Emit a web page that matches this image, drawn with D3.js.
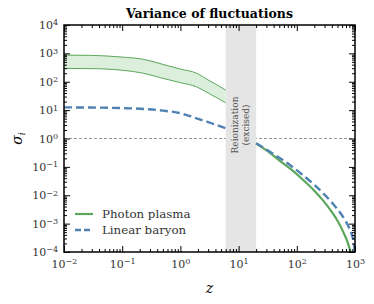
<!doctype html>
<html>
<head>
<style>
  body { margin: 0; background: #fff; }
</style>
<script src="https://d3js.org/d3.v7.min.js"></script>
</head>
<body>
<svg width="374" height="304"></svg>
<script>
// early times: photon plasma band (upper / lower edge) and linear baryon
var zEarly = [0.01, 0.03, 0.1, 0.23, 0.5, 1, 1.9, 3, 4, 6];
var plasmaUpper = [870, 850, 740, 620, 410, 280, 200, 115, 83, 51];
var plasmaLower = [295, 290, 255, 200, 132, 93, 66, 40, 29, 18];
var baryonEarly = [12.5, 12.3, 11.8, 11, 9.6, 7.8, 5.1, 3.8, 3.1, 2.3];

// late times (after reionization)
var zLatePlasma = [20, 32, 50, 79, 126, 200, 282, 398, 501, 631, 741, 851];
var plasmaLate = [0.66, 0.35, 0.17, 0.083, 0.036, 0.0145, 0.0066, 0.0026, 0.00126, 0.0005, 0.00023, 0.00009];
var zLateBaryon = [20, 32, 50, 79, 126, 200, 282, 398, 501, 631, 794, 891, 955, 1000];
var baryonLate = [0.68, 0.38, 0.21, 0.11, 0.052, 0.0234, 0.012, 0.0056, 0.0032, 0.00166, 0.00071, 0.00038, 0.0002, 0.00009];

var reionization = [6, 20];
var xTicks = [1e-2, 1e-1, 1e0, 1e1, 1e2, 1e3];
var yTicks = [1e-4, 1e-3, 1e-2, 1e-1, 1e0, 1e1, 1e2, 1e3, 1e4];
var xExp = ["\u22122", "\u22121", "0", "1", "2", "3"];
var yExp = ["\u22124", "\u22123", "\u22122", "\u22121", "0", "1", "2", "3", "4"];

var green = "#5ba65b", blue = "#4f82b3";
var serif = "DejaVu Serif";

var svg = d3.select("svg").attr("font-family", serif),
    mLeft = 64, mRight = 355, mTop = 25, mBottom = 252;

var x = d3.scaleLog().domain([1e-2, 1e3]).range([mLeft, mRight]),
    y = d3.scaleLog().domain([1e-4, 1e4]).range([mBottom, mTop]);

function minors(lo, hi) {
    var out = [];
    for (var e = lo; e < hi; e++)
        for (var m = 2; m <= 9; m++) out.push(m * Math.pow(10, e));
    return out;
}
var xMinor = minors(-2, 3), yMinor = minors(-4, 4);

svg.append("clipPath").attr("id", "plot")
   .append("rect").attr("x", mLeft).attr("y", mTop)
   .attr("width", mRight - mLeft).attr("height", mBottom - mTop);

var g = svg.append("g").attr("clip-path", "url(#plot)");

// unity reference line
g.append("line")
 .attr("x1", mLeft).attr("x2", mRight)
 .attr("y1", y(1)).attr("y2", y(1))
 .attr("stroke", "#999").attr("stroke-width", 1)
 .attr("stroke-dasharray", "3,2");

// reionization band
g.append("rect")
 .attr("x", x(reionization[0])).attr("y", mTop)
 .attr("width", x(reionization[1]) - x(reionization[0]))
 .attr("height", mBottom - mTop)
 .attr("fill", "#e5e5e5");

var band = d3.area()
    .x(function(d, i) { return x(zEarly[i]); })
    .y0(function(d, i) { return y(plasmaLower[i]); })
    .y1(function(d, i) { return y(plasmaUpper[i]); })
    .curve(d3.curveMonotoneX);

g.append("path").datum(zEarly).attr("d", band)
 .attr("fill", "#dcefdc");

var line = d3.line()
    .x(function(d) { return x(d[0]); })
    .y(function(d) { return y(d[1]); })
    .curve(d3.curveMonotoneX);

[plasmaUpper, plasmaLower].forEach(function(s) {
    g.append("path").datum(d3.zip(zEarly, s)).attr("d", line)
     .attr("fill", "none").attr("stroke", green).attr("stroke-width", 1);
});

g.append("path").datum(d3.zip(zLatePlasma, plasmaLate)).attr("d", line)
 .attr("fill", "none").attr("stroke", green).attr("stroke-width", 2.2);

[[zEarly, baryonEarly], [zLateBaryon, baryonLate]].forEach(function(s) {
    g.append("path").datum(d3.zip(s[0], s[1])).attr("d", line)
     .attr("fill", "none").attr("stroke", blue).attr("stroke-width", 2.4)
     .attr("stroke-dasharray", "8,4");
});

// band label
var bx = (x(reionization[0]) + x(reionization[1])) / 2;
var bl = svg.append("text")
 .attr("transform", "translate(" + bx + "," + 125 + ") rotate(-90)")
 .attr("text-anchor", "middle").attr("font-size", 9).attr("fill", "#555");
bl.append("tspan").attr("x", 0).attr("dy", "-0.3em").text("Reionization");
bl.append("tspan").attr("x", 0).attr("dy", "1.15em").text("(excised)");

// axes
function expLabel(exps) {
    return function(sel) {
        sel.selectAll(".tick text").each(function(d, i) {
            var t = d3.select(this).text("");
            t.append("tspan").text("10");
            t.append("tspan").attr("dy", "-0.45em").attr("font-size", "8px").text(exps[i]);
        });
    };
}

function styleAxis(sel) {
    sel.attr("font-family", serif);
    sel.select(".domain").remove();
    sel.selectAll(".tick line").attr("stroke", "#000").attr("stroke-width", 1);
    sel.selectAll(".tick text").attr("font-size", 11).attr("fill", "#333");
}

svg.append("g").attr("transform", "translate(0," + mBottom + ")")
   .call(d3.axisBottom(x).tickValues(xTicks).tickSize(-6).tickPadding(8))
   .call(styleAxis).call(expLabel(xExp));
svg.append("g").attr("transform", "translate(0," + mBottom + ")")
   .call(d3.axisBottom(x).tickValues(xMinor).tickSize(-3).tickFormat(""))
   .call(styleAxis);
svg.append("g").attr("transform", "translate(0," + mTop + ")")
   .call(d3.axisTop(x).tickValues(xTicks).tickSize(-6).tickFormat(""))
   .call(styleAxis);
svg.append("g").attr("transform", "translate(0," + mTop + ")")
   .call(d3.axisTop(x).tickValues(xMinor).tickSize(-3).tickFormat(""))
   .call(styleAxis);

svg.append("g").attr("transform", "translate(" + mLeft + ",0)")
   .call(d3.axisLeft(y).tickValues(yTicks).tickSize(-6).tickPadding(6))
   .call(styleAxis).call(expLabel(yExp));
svg.append("g").attr("transform", "translate(" + mLeft + ",0)")
   .call(d3.axisLeft(y).tickValues(yMinor).tickSize(-3).tickFormat(""))
   .call(styleAxis);
svg.append("g").attr("transform", "translate(" + mRight + ",0)")
   .call(d3.axisRight(y).tickValues(yTicks).tickSize(-6).tickFormat(""))
   .call(styleAxis);
svg.append("g").attr("transform", "translate(" + mRight + ",0)")
   .call(d3.axisRight(y).tickValues(yMinor).tickSize(-3).tickFormat(""))
   .call(styleAxis);

svg.append("rect")
 .attr("x", mLeft).attr("y", mTop).attr("width", mRight - mLeft).attr("height", mBottom - mTop)
 .attr("fill", "none").attr("stroke", "#000").attr("stroke-width", 1.5);

// title and axis labels
svg.append("text").attr("x", (mLeft + mRight) / 2).attr("y", 18)
 .attr("text-anchor", "middle").attr("font-weight", "bold").attr("font-size", 12.5)
 .text("Variance of fluctuations");

svg.append("text").attr("x", (mLeft + mRight) / 2).attr("y", 293)
 .attr("text-anchor", "middle").attr("font-style", "italic").attr("font-size", 14)
 .text("z");

var yl = svg.append("text")
 .attr("transform", "translate(22," + y(1) + ") rotate(-90)")
 .attr("text-anchor", "middle").attr("font-size", 14);
yl.append("tspan").attr("font-style", "italic").text("\u03c3");
yl.append("tspan").attr("font-style", "italic").attr("font-size", 9).attr("dy", "0.3em").text("i");

// legend
var legend = [
    { label: "Photon plasma", color: green, dash: null, w: 2.2 },
    { label: "Linear baryon", color: blue, dash: "6,3", w: 2.4 }
];
legend.forEach(function(d, i) {
    var ly = 214 + i * 16;
    svg.append("line").attr("x1", 75).attr("x2", 93).attr("y1", ly).attr("y2", ly)
       .attr("stroke", d.color).attr("stroke-width", d.w)
       .attr("stroke-dasharray", d.dash);
    svg.append("text").attr("x", 102).attr("y", ly + 4)
       .attr("font-size", 11.8).attr("fill", "#333").text(d.label);
});
</script>
</body>
</html>
